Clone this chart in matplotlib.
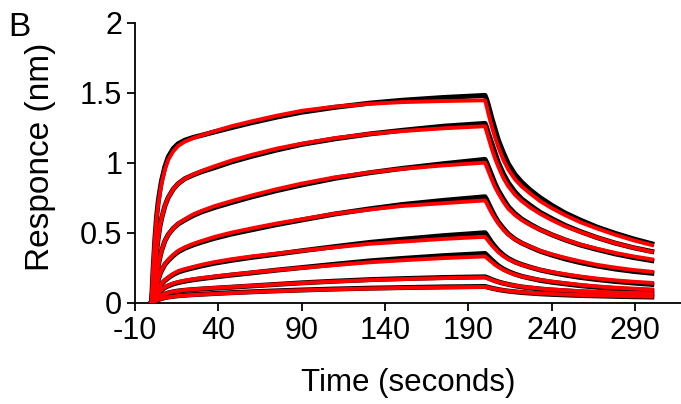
import matplotlib
matplotlib.use("Agg")
import matplotlib.pyplot as plt

plt.rcParams['font.family'] = ['Liberation Sans', 'DejaVu Sans']
plt.rcParams['axes.unicode_minus'] = False

# time points (seconds) for association and dissociation phases
t_assoc = [0, 1, 2, 3, 4, 5, 6, 8, 10, 13, 16, 20, 25, 30, 38, 48, 60, 75,
           90, 110, 131, 150, 175, 200]
t_dissoc = [200, 201, 202, 204, 206, 208, 211, 214, 218, 222, 227, 233, 240,
            248, 257, 267, 278, 289, 300]

# fitted curves (red), one list per analyte concentration
fit_assoc = [
    [0, 0.25, 0.45, 0.60, 0.70, 0.78, 0.85, 0.95, 1.02, 1.08, 1.12, 1.15, 1.175,
     1.195, 1.225, 1.26, 1.295, 1.335, 1.37, 1.40, 1.42, 1.432, 1.44, 1.445],
    [0, 0.13, 0.25, 0.36, 0.46, 0.54, 0.60, 0.69, 0.75, 0.81, 0.85, 0.885, 0.915,
     0.94, 0.975, 1.015, 1.055, 1.10, 1.135, 1.175, 1.205, 1.225, 1.245, 1.26],
    [0, 0.06, 0.12, 0.19, 0.26, 0.32, 0.37, 0.44, 0.485, 0.53, 0.565, 0.595, 0.63,
     0.655, 0.69, 0.725, 0.765, 0.81, 0.85, 0.895, 0.93, 0.955, 0.98, 1.0],
    [0, 0.035, 0.07, 0.115, 0.16, 0.20, 0.23, 0.275, 0.305, 0.34, 0.37, 0.395, 0.42,
     0.44, 0.47, 0.50, 0.53, 0.565, 0.595, 0.635, 0.665, 0.69, 0.71, 0.73],
    [0, 0.02, 0.04, 0.065, 0.09, 0.115, 0.135, 0.16, 0.18, 0.205, 0.225, 0.24, 0.255,
     0.27, 0.29, 0.31, 0.33, 0.35, 0.37, 0.395, 0.42, 0.435, 0.455, 0.47],
    [0, 0.015, 0.03, 0.045, 0.065, 0.08, 0.092, 0.11, 0.122, 0.137, 0.147, 0.157, 0.167,
     0.175, 0.187, 0.20, 0.215, 0.232, 0.248, 0.268, 0.288, 0.302, 0.318, 0.33],
    [0, 0.008, 0.015, 0.025, 0.035, 0.045, 0.052, 0.062, 0.07, 0.078, 0.084, 0.09, 0.095,
     0.099, 0.105, 0.112, 0.12, 0.13, 0.14, 0.151, 0.161, 0.168, 0.175, 0.18],
    [0, 0.005, 0.01, 0.015, 0.019, 0.023, 0.027, 0.033, 0.038, 0.043, 0.047, 0.051, 0.055,
     0.058, 0.063, 0.069, 0.075, 0.082, 0.088, 0.095, 0.101, 0.105, 0.109, 0.112],
]
fit_dissoc = [
    [1.445, 1.40, 1.35, 1.26, 1.18, 1.11, 1.02, 0.95, 0.88, 0.83, 0.78, 0.725, 0.675,
     0.625, 0.575, 0.53, 0.485, 0.445, 0.411],
    [1.26, 1.22, 1.18, 1.10, 1.03, 0.97, 0.89, 0.83, 0.77, 0.725, 0.68, 0.635, 0.59,
     0.545, 0.505, 0.465, 0.425, 0.392, 0.363],
    [1.0, 0.97, 0.94, 0.88, 0.825, 0.78, 0.72, 0.67, 0.625, 0.59, 0.555, 0.52, 0.485,
     0.45, 0.415, 0.385, 0.355, 0.33, 0.309],
    [0.73, 0.71, 0.685, 0.64, 0.60, 0.565, 0.52, 0.485, 0.45, 0.425, 0.40, 0.37, 0.345,
     0.32, 0.295, 0.27, 0.25, 0.233, 0.22],
    [0.47, 0.455, 0.44, 0.41, 0.385, 0.36, 0.332, 0.31, 0.287, 0.27, 0.253, 0.235, 0.218,
     0.203, 0.187, 0.172, 0.159, 0.149, 0.141],
    [0.33, 0.32, 0.31, 0.29, 0.27, 0.254, 0.234, 0.218, 0.20, 0.187, 0.175, 0.162, 0.15,
     0.139, 0.127, 0.116, 0.107, 0.10, 0.094],
    [0.18, 0.176, 0.171, 0.162, 0.154, 0.147, 0.138, 0.13, 0.121, 0.114, 0.107, 0.10, 0.094,
     0.088, 0.082, 0.077, 0.072, 0.069, 0.066],
    [0.112, 0.11, 0.107, 0.102, 0.097, 0.093, 0.088, 0.083, 0.078, 0.074, 0.07, 0.066, 0.062,
     0.058, 0.054, 0.051, 0.048, 0.045, 0.043],
]

# measured sensorgrams (black)
raw_assoc = [
    [0, 0.25, 0.45, 0.61, 0.72, 0.80, 0.87, 0.97, 1.04, 1.10, 1.135, 1.16, 1.18,
     1.195, 1.22, 1.25, 1.285, 1.325, 1.36, 1.395, 1.425, 1.445, 1.465, 1.48],
    [0, 0.13, 0.25, 0.36, 0.46, 0.54, 0.60, 0.69, 0.75, 0.81, 0.85, 0.885, 0.912,
     0.935, 0.965, 1.005, 1.045, 1.09, 1.13, 1.17, 1.205, 1.23, 1.26, 1.28],
    [0, 0.06, 0.12, 0.19, 0.26, 0.32, 0.37, 0.44, 0.485, 0.53, 0.562, 0.59, 0.622,
     0.648, 0.68, 0.715, 0.755, 0.80, 0.84, 0.888, 0.928, 0.958, 0.992, 1.023],
    [0, 0.035, 0.07, 0.115, 0.16, 0.20, 0.228, 0.272, 0.30, 0.335, 0.363, 0.388, 0.412,
     0.432, 0.46, 0.49, 0.52, 0.557, 0.59, 0.633, 0.67, 0.70, 0.73, 0.756],
    [0, 0.02, 0.04, 0.065, 0.09, 0.115, 0.133, 0.157, 0.176, 0.20, 0.218, 0.233, 0.248,
     0.262, 0.282, 0.302, 0.323, 0.346, 0.37, 0.40, 0.43, 0.452, 0.478, 0.499],
    [0, 0.015, 0.03, 0.045, 0.065, 0.08, 0.09, 0.107, 0.119, 0.133, 0.143, 0.153, 0.163,
     0.171, 0.183, 0.197, 0.212, 0.232, 0.25, 0.274, 0.298, 0.315, 0.335, 0.351],
    [0, 0.008, 0.015, 0.025, 0.035, 0.045, 0.052, 0.061, 0.069, 0.077, 0.083, 0.088, 0.093,
     0.097, 0.103, 0.11, 0.119, 0.13, 0.141, 0.153, 0.164, 0.171, 0.179, 0.184],
    [0, 0.005, 0.01, 0.016, 0.02, 0.025, 0.029, 0.035, 0.04, 0.045, 0.049, 0.053, 0.057,
     0.06, 0.065, 0.071, 0.077, 0.084, 0.09, 0.097, 0.103, 0.107, 0.112, 0.115],
]
raw_dissoc = [
    [1.48, 1.45, 1.41, 1.32, 1.24, 1.16, 1.07, 0.99, 0.915, 0.86, 0.805, 0.75, 0.695,
     0.64, 0.59, 0.54, 0.495, 0.455, 0.42],
    [1.28, 1.25, 1.21, 1.14, 1.07, 1.0, 0.92, 0.855, 0.79, 0.74, 0.695, 0.645, 0.60,
     0.552, 0.508, 0.465, 0.425, 0.392, 0.365],
    [1.023, 1.0, 0.97, 0.91, 0.85, 0.80, 0.74, 0.685, 0.635, 0.597, 0.56, 0.522, 0.485,
     0.448, 0.412, 0.38, 0.348, 0.322, 0.30],
    [0.756, 0.735, 0.71, 0.66, 0.615, 0.575, 0.53, 0.49, 0.453, 0.425, 0.398, 0.367, 0.34,
     0.312, 0.286, 0.262, 0.24, 0.223, 0.21],
    [0.499, 0.485, 0.465, 0.43, 0.40, 0.372, 0.34, 0.315, 0.29, 0.272, 0.253, 0.233, 0.215,
     0.197, 0.18, 0.165, 0.151, 0.14, 0.13],
    [0.351, 0.34, 0.328, 0.305, 0.283, 0.263, 0.24, 0.222, 0.203, 0.188, 0.174, 0.159, 0.146,
     0.134, 0.121, 0.11, 0.10, 0.092, 0.085],
    [0.184, 0.18, 0.175, 0.165, 0.156, 0.148, 0.138, 0.13, 0.12, 0.112, 0.105, 0.097, 0.09,
     0.084, 0.077, 0.072, 0.067, 0.063, 0.06],
    [0.115, 0.112, 0.109, 0.103, 0.098, 0.093, 0.087, 0.082, 0.077, 0.072, 0.068, 0.063, 0.059,
     0.055, 0.051, 0.048, 0.045, 0.042, 0.04],
]

x_ticks = [-10, 40, 90, 140, 190, 240, 290]
y_ticks = [0, 0.5, 1, 1.5, 2]
y_ticklabels = ['0', '0.5', '1', '1.5', '2']

fig = plt.figure(figsize=(6.81, 4.04), dpi=100)
ax = fig.add_axes([0.198, 0.251, 0.802, 0.693])

t_all = t_assoc + t_dissoc[1:]
for i in range(len(raw_assoc)):
    ax.plot(t_all, raw_assoc[i] + raw_dissoc[i][1:],
            color='black', lw=3.6, solid_joinstyle='round', zorder=2)
for i in range(len(fit_assoc)):
    ax.plot(t_all, fit_assoc[i] + fit_dissoc[i][1:],
            color='#ff0000', lw=2.8, solid_joinstyle='round', zorder=3)

ax.set_xlim(-10, 317.5)
ax.set_ylim(0, 2)
ax.set_xticks(x_ticks)
ax.set_yticks(y_ticks)
ax.set_yticklabels(y_ticklabels)
for s in ['top', 'right']:
    ax.spines[s].set_visible(False)
for s in ['left', 'bottom']:
    ax.spines[s].set_linewidth(1.3)
ax.tick_params(direction='out', length=6, width=1.3, labelsize=22)
ax.tick_params(axis='y', pad=3)
ax.tick_params(axis='x', pad=4)
ax.set_xlabel('Time (seconds)', fontsize=22.5)
ax.set_ylabel('Responce (nm)', fontsize=24)
ax.xaxis.set_label_coords(0.5, -0.235)
ax.yaxis.set_label_coords(-0.145, 0.52)

fig.text(0.012, 0.91, 'B', fontsize=24)

fig.savefig('out.png', dpi=100)
